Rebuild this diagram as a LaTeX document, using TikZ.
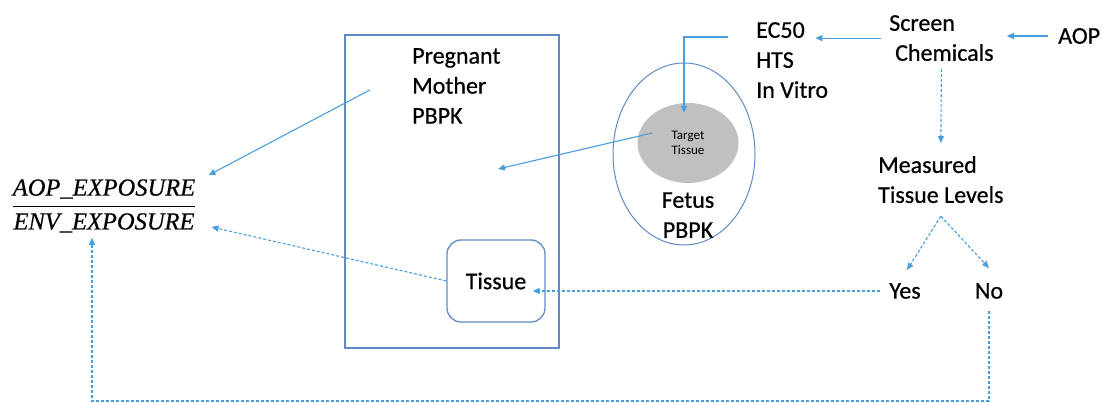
\documentclass[tikz,border=0pt]{standalone}
\usepackage{amsmath}
\usepackage{fontspec}
\setmainfont{Carlito}
\newfontfamily\lblfont{Carlito}[FakeBold=0.6]
\newfontfamily\ratiofont{Liberation Serif}[FakeBold=0.4]
\usetikzlibrary{shapes.geometric,positioning,arrows.meta}
\definecolor{boxblue}{RGB}{96,138,196}
\definecolor{linkblue}{RGB}{72,158,222}
\definecolor{tissuegray}{RGB}{192,192,192}

\begin{document}
\begin{tikzpicture}[x=1pt,y=-1pt,node distance=1cm]
\tikzstyle{lbl}=[font=\lblfont\fontsize{24}{30}\selectfont,inner sep=0pt]
\tikzstyle{mbox}=[rectangle,draw=boxblue,line width=1.3pt,minimum width=214pt,minimum height=313pt]
\tikzstyle{tbox}=[rectangle,rounded corners=14pt,draw=boxblue,line width=1.3pt,minimum width=98pt,minimum height=82pt,font=\lblfont\fontsize{24}{30}\selectfont]
\tikzstyle{fet}=[ellipse,draw=boxblue,line width=1pt,minimum width=142pt,minimum height=182pt,inner sep=0pt]
\tikzstyle{targ}=[ellipse,fill=tissuegray,minimum width=101pt,minimum height=80pt,inner sep=0pt,align=center,font=\fontsize{13}{15}\selectfont]
\tikzstyle{link}=[draw=linkblue,line width=1.1pt,-{Triangle[length=7pt,width=6pt]}]
\tikzstyle{dlink}=[link,dash pattern=on 3pt off 2pt]
\useasboundingbox (0,0) rectangle (1102,403);
% exposure ratio
\node (ratio) [inner sep=5pt,font=\ratiofont\fontsize{24.5}{28}\selectfont\itshape] at (104,206) {$\dfrac{\text{AOP\_EXPOSURE}}{\text{ENV\_EXPOSURE}}$};
% mother model
\node (mother) [mbox] at (452,191.5) {};
\node (mtext) [lbl,align=left,anchor=north west] at (412,48) {Pregnant\\Mother\\PBPK};
\node (tissue) [tbox] at (496,281) {Tissue};
\coordinate (mid) at (498,169);
% fetus model
\node (fetus) [fet] at (684,154) {};
\node (target) [targ] at (688,143) {Target\\Tissue};
\node (ftext) [lbl,align=center,below=9pt of target] {Fetus\\PBPK};
% screening
\node (ec50) [lbl,align=left,anchor=north west] at (756,22) {EC50\\HTS\\In Vitro};
\node (screen) [lbl,align=left,anchor=north west] at (889,15) {Screen\\\hspace*{6pt}Chemicals};
\node (aop) [lbl,anchor=west] at (1058,36) {AOP};
\node (measured) [lbl,align=left,anchor=north west] at (878,156) {Measured\\Tissue Levels};
\node (yes) [lbl] at (905,291) {Yes};
\node (no) [lbl] at (989,291) {No};
\coordinate (floor) at (0,401);
\draw[link] ([xshift=-42pt,yshift=-4pt]mtext.west) -- ([xshift=7pt,yshift=-1pt]ratio.north east);
\draw[link] ([xshift=15pt,yshift=10pt]target.west) -- (mid);
\draw[link] ([xshift=-28pt,yshift=-15pt]ec50.north west) -| ([xshift=-4pt,yshift=-10pt]target.north);
\draw[link] ([xshift=-8pt]screen.west) -- ([xshift=-13pt]ec50.east |- screen.west);
\draw[link] ([xshift=-10pt]aop.west) -- ([xshift=13pt]screen.east |- aop.west);
\draw[dlink] ([yshift=-8pt]screen.south) -- ([yshift=13pt]measured.north);
\draw[dlink] ([yshift=-13pt]measured.south) -- ([xshift=2pt,yshift=13pt]yes.north);
\draw[dlink] ([yshift=-13pt]measured.south) -- ([yshift=15pt]no.north);
\draw[dlink] ([xshift=-9pt]yes.west) -- ([xshift=-13pt]tissue.east |- yes.west);
\draw[dlink] (tissue.west) -- ([xshift=10pt,yshift=-21pt]ratio.east);
\draw[dlink] ([yshift=-12pt]no.south) -- (no.south |- floor) -| ([xshift=-12pt]ratio.south);
\end{tikzpicture}
\end{document}
